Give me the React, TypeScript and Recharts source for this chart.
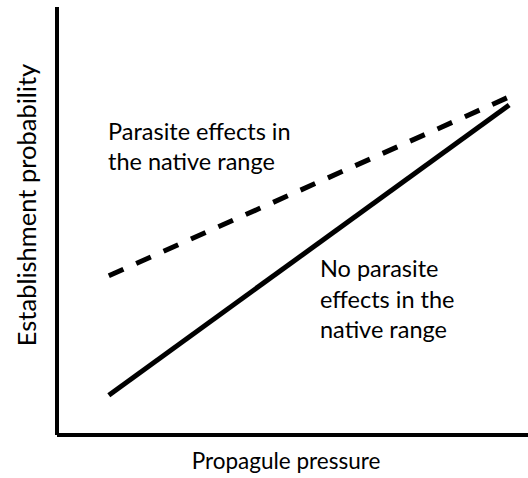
import React from 'react'
import { LineChart, Line, XAxis, YAxis, Customized } from 'recharts'

// conceptual figure: two straight lines, no ticks
const pressure = [11, 96]
const noParasite = [9.3, 77.1]
const parasite = [37.2, 79]

const xTitle = 'Propagule pressure'
const yTitle = 'Establishment probability'
const parasiteNote = ['Parasite effects in', 'the native range']
const noParasiteNote = ['No parasite', 'effects in the', 'native range']

const chartData = pressure.map((p, i) => ({
  pressure: p,
  noParasite: noParasite[i],
  parasite: parasite[i],
}))

const font = 'Lato, "Open Sans", sans-serif'

function Notes() {
  return (
    <g fontFamily={font} fill='#000'>
      <text x={286} y={469} fontSize={22.5} textAnchor='middle'>{xTitle}</text>
      <text
        x={36}
        y={205}
        fontSize={25.5}
        textAnchor='middle'
        transform='rotate(-90 36 205)'
      >
        {yTitle}
      </text>
      {parasiteNote.map((t, i) => (
        <text key={t} x={108} y={140 + i * 29.5} fontSize={23.5}>{t}</text>
      ))}
      {noParasiteNote.map((t, i) => (
        <text key={t} x={320} y={277 + i * 30.5} fontSize={23.5}>{t}</text>
      ))}
    </g>
  )
}

export default function App() {
  return (
    <div style={{ position: 'absolute', left: 0, top: 0, background: '#fff' }}>
      <LineChart
        width={528}
        height={478}
        data={chartData}
        margin={{ top: 7, right: 0, bottom: 42, left: 56 }}
      >
        <XAxis
          dataKey='pressure'
          type='number'
          domain={[0, 100]}
          height={1}
          tick={false}
          tickLine={false}
          axisLine={{ stroke: '#000', strokeWidth: 4 }}
        />
        <YAxis
          type='number'
          domain={[0, 100]}
          width={1}
          tick={false}
          tickLine={false}
          axisLine={{ stroke: '#000', strokeWidth: 4 }}
        />
        <Line
          dataKey='noParasite'
          stroke='#000'
          strokeWidth={5}
          dot={false}
          isAnimationActive={false}
        />
        <Line
          dataKey='parasite'
          stroke='#000'
          strokeWidth={5}
          strokeDasharray='16 14'
          dot={false}
          isAnimationActive={false}
        />
        <Customized component={<Notes />} />
      </LineChart>
    </div>
  )
}
